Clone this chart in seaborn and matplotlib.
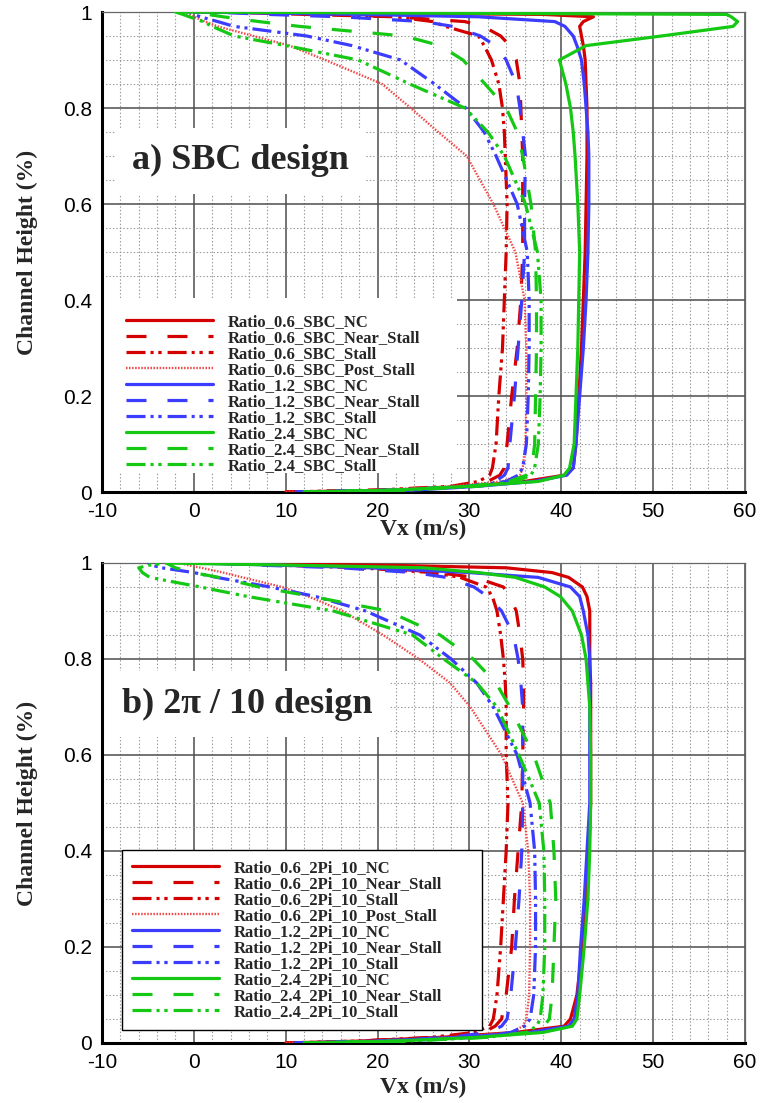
import matplotlib
matplotlib.use("Agg")
import matplotlib.pyplot as plt
import seaborn as sns
from matplotlib.patches import Rectangle
from matplotlib.ticker import MultipleLocator, FuncFormatter

# channel height stations shared by every profile (fraction of span)
height = [0.0, 0.004, 0.012, 0.022, 0.035, 0.05, 0.1, 0.2, 0.3, 0.4, 0.5, 0.6,
          0.7, 0.75, 0.8, 0.85, 0.9, 0.93, 0.95, 0.97, 0.98, 0.99, 0.995, 1.0]

# a) SBC design -- Vx (m/s) at each height station
sbc_06_nc = [10, 22, 30, 36, 40.3, 41.3, 41.6, 41.9, 42.2, 42.4, 42.6, 42.7,
             42.8, 42.8, 42.8, 42.7, 42.6, 42.4, 42.2, 42.0, 42.4, 43.5, 38, 0]
sbc_06_ns = [10, 20, 30, 32, 33.3, 33.8, 34.1, 34.6, 35.2, 35.6, 35.8, 35.8,
             35.8, 35.7, 35.6, 35.5, 35.1, 34.4, 33.4, 31.5, 29.5, 22, 15, 8]
sbc_06_st = [10, 20, 28, 31, 32.2, 32.5, 32.9, 33.2, 33.6, 33.8, 34.0, 34.1,
             33.9, 33.8, 33.6, 33.2, 32.4, 31.6, 31.0, 27.4, 26.0, 22, 12, 3]
sbc_06_ps = [10, 20, 28, 33.5, 35.5, 35.8, 36.1, 36.2, 36.2, 36.0, 35.0, 32.6,
             29.7, 26.6, 23.6, 20.5, 14.3, 10.4, 6.5, 2.6, 1.2, 0, -0.5, -1]
sbc_12_nc = [12, 24, 31, 37, 40.6, 41.3, 41.6, 42.0, 42.4, 42.7, 42.9, 43.0,
             43.0, 42.9, 42.7, 42.5, 42.2, 41.7, 41.3, 40.4, 39.3, 31, 18, 0]
sbc_12_ns = [11, 22, 30, 32.8, 33.8, 34.2, 34.4, 34.9, 35.3, 35.7, 36.0, 36.0,
             36.1, 35.8, 35.5, 35.1, 34.0, 32.8, 31.2, 28.2, 25, 16, 8, 2]
sbc_12_st = [11, 22, 30, 34, 35.3, 35.8, 36.2, 36.4, 36.5, 36.5, 36.3, 35.2,
             32.9, 31.6, 29.6, 26.2, 22.5, 17.2, 12.3, 4.4, 2.6, 0.7, 0, -0.5]
sbc_24_nc = [12, 22, 30, 37.5, 40.3, 40.9, 41.4, 41.6, 41.8, 41.9, 42.0, 41.8,
             41.5, 41.3, 41.0, 40.5, 39.8, 42.7, 50.9, 58.7, 59.2, 58.5, 58.0, -2]
sbc_24_ns = [12, 22, 30, 34.3, 36.2, 36.8, 37.1, 37.2, 37.3, 37.3, 37.2, 36.7,
             35.8, 35.2, 34.0, 31.7, 29.3, 26.8, 22.9, 11.5, 7.1, 3.2, 1.5, 0]
sbc_24_st = [12, 23, 31, 35.1, 36.7, 37.1, 37.5, 37.7, 37.8, 37.8, 37.4, 36.1,
             33.8, 32.0, 29.5, 23.5, 17.9, 10.0, 4.4, 2.0, 1.0, -0.5, -1.2, -2]

# b) 2pi/10 design
pi_06_nc = [10, 18, 27, 35, 40.3, 41.0, 41.7, 42.3, 42.7, 43.0, 43.2, 43.2,
            43.2, 43.2, 43.1, 43.1, 43.1, 42.8, 42.3, 40.8, 39.0, 34, 22, 0]
pi_06_ns = [10, 18, 27, 31.5, 32.8, 33.5, 34.0, 34.6, 34.9, 35.3, 35.7, 35.8,
            35.9, 35.9, 35.8, 35.5, 35.1, 34.4, 33.7, 30.6, 26.5, 21, 15, 8]
pi_06_st = [10, 18, 26, 30.5, 32.2, 32.6, 33.0, 33.4, 33.7, 34.0, 34.2, 34.0,
            34.0, 33.9, 33.7, 33.4, 33.0, 32.5, 31.8, 29, 26, 18, 10, 3]
pi_06_ps = [10, 20, 28, 34.5, 35.8, 36.2, 36.5, 36.6, 36.6, 36.4, 35.8, 33.5,
            30.1, 27.9, 24.5, 20.6, 16.2, 12.5, 9.6, 5.3, 3.2, 0.8, -0.5, -1.5]
pi_12_nc = [11, 20, 29, 36.5, 40.8, 41.4, 41.8, 42.1, 42.5, 42.8, 43.1, 43.1,
            43.1, 43.1, 43.1, 42.9, 42.4, 42.0, 41.0, 37.5, 30, 19, 10, 0]
pi_12_ns = [11, 20, 28, 32, 33.5, 34.1, 34.5, 35.0, 35.4, 35.7, 35.8, 35.8,
            35.8, 35.6, 35.3, 34.8, 33.5, 32.0, 30.5, 27.5, 24, 16, 8, 2]
pi_12_st = [11, 22, 31, 34.5, 36.0, 36.6, 37.0, 37.2, 37.2, 37.1, 36.6, 35.2,
            32.6, 30.8, 28.0, 24.6, 18.7, 13.3, 8.3, 2.5, 0.0, -3.5, -4.5, -5]
pi_24_nc = [12, 22, 31, 38, 41.2, 41.7, 42.0, 42.5, 42.9, 43.1, 43.2, 43.2,
            43.1, 42.9, 42.7, 42.2, 41.2, 39.9, 38.2, 35.0, 31, 25, 12, -3]
pi_24_ns = [12, 23, 32, 36.5, 38.1, 38.7, 39.0, 39.2, 39.4, 39.2, 38.8, 37.0,
            34.4, 32.9, 30.4, 26.8, 21.1, 12.9, 7.1, 2.7, -0.1, -2, -2.5, -3]
pi_24_st = [12, 23, 32, 36.2, 37.3, 37.7, 38.0, 38.2, 38.2, 38.1, 37.6, 35.4,
            33.0, 30.8, 27.2, 23.8, 15.2, 5.9, 0.7, -4.8, -5.6, -6.0, -5.0, -3]

ratios = ["0.6", "0.6", "0.6", "0.6", "1.2", "1.2", "1.2", "2.4", "2.4", "2.4"]
conditions = ["NC", "Near_Stall", "Stall", "Post_Stall", "NC", "Near_Stall",
              "Stall", "NC", "Near_Stall", "Stall"]
sbc_series = [sbc_06_nc, sbc_06_ns, sbc_06_st, sbc_06_ps, sbc_12_nc, sbc_12_ns,
              sbc_12_st, sbc_24_nc, sbc_24_ns, sbc_24_st]
pi_series = [pi_06_nc, pi_06_ns, pi_06_st, pi_06_ps, pi_12_nc, pi_12_ns,
             pi_12_st, pi_24_nc, pi_24_ns, pi_24_st]

COLORS = {"0.6": "#d40000", "1.2": "#3c3cff", "2.4": "#14c814"}
DASHES = {
    "NC": "-",
    "Near_Stall": (0, (14.4, 15.1)),
    "Stall": (0, (13.7, 3.6, 2.2, 3.4, 2.4, 4.3)),
    "Post_Stall": (0, (1.1, 1.1)),
}

sns.set_theme(style="white")
plt.rcParams['font.family'] = ['Liberation Sans', 'DejaVu Sans']
plt.rcParams['lines.scale_dashes'] = False
SERIF = dict(family=['Liberation Serif', 'DejaVu Serif'], weight='bold')

fig = plt.figure(figsize=(7.61, 11.03), dpi=100)
ax_a = fig.add_axes([102 / 761, 1 - 492 / 1103, 643 / 761, 480 / 1103])
ax_b = fig.add_axes([102 / 761, 1 - 1043 / 1103, 643 / 761, 480 / 1103])


def draw_profiles(ax, series, tag):
    for vx, ratio, cond in zip(series, ratios, conditions):
        color = "#f04848" if cond == "Post_Stall" else COLORS[ratio]
        lw = 1.7 if cond == "Post_Stall" else 2.3
        sns.lineplot(x=vx, y=height, ax=ax, sort=False, estimator=None,
                     color=color, linewidth=lw, linestyle=DASHES[cond],
                     label=f"Ratio_{ratio}_{tag}_{cond}", zorder=3)


def style_axes(ax, label_y):
    ax.set_xlim(-10, 60)
    ax.set_ylim(0, 1)
    ax.xaxis.set_major_locator(MultipleLocator(10))
    ax.xaxis.set_minor_locator(MultipleLocator(2))
    ax.yaxis.set_major_locator(MultipleLocator(0.2))
    ax.yaxis.set_minor_locator(MultipleLocator(0.05))
    fmt = FuncFormatter(lambda v, p: f"{v:g}")
    ax.xaxis.set_major_formatter(fmt)
    ax.yaxis.set_major_formatter(fmt)
    ax.set_axisbelow(True)
    ax.grid(which='major', color='#4d4d4d', linewidth=1.1)
    ax.grid(which='minor', color='#999999', linewidth=0.8, linestyle=(0, (1, 1.5)))
    for s in ['left', 'bottom']:
        ax.spines[s].set_color('black')
        ax.spines[s].set_linewidth(2.2)
    for s in ['top', 'right']:
        ax.spines[s].set_color('#666666')
        ax.spines[s].set_linewidth(0.9)
    ax.tick_params(which='major', direction='in', length=11, width=2.2,
                   color='black', labelsize=15, pad=7, labelcolor='black')
    ax.tick_params(which='minor', direction='in', length=5, width=0.8, color='#333333')
    ax.set_xlabel('Vx (m/s)', fontsize=17, **SERIF)
    ax.set_ylabel('Channel Height (%)', fontsize=17, **SERIF)
    ax.xaxis.set_label_coords(0.5, label_y)
    ax.yaxis.set_label_coords(-0.0995, 0.5)


draw_profiles(ax_a, sbc_series, "SBC")
draw_profiles(ax_b, pi_series, "2Pi_10")
style_axes(ax_a, -0.055)
style_axes(ax_b, -0.07)

# white area behind the panel a) legend (no frame there)
ax_a.add_patch(Rectangle((0, 0.04), 0.552, 0.365, transform=ax_a.transAxes,
                         facecolor='white', edgecolor='none', zorder=1))

leg_kw = dict(loc='upper left', borderaxespad=0, fancybox=False, framealpha=1,
              facecolor='white', prop=dict(size=12, **SERIF), handlelength=5.2,
              handletextpad=0.9, labelspacing=0.0, borderpad=0.6)
h, l = ax_a.get_legend_handles_labels()
leg_a = ax_a.legend(h, l, bbox_to_anchor=(0.022, 0.392), frameon=False, **leg_kw)
h, l = ax_b.get_legend_handles_labels()
leg_b = ax_b.legend(h, l, bbox_to_anchor=(0.031, 0.0, 0.56, 0.402), mode='expand',
                    frameon=True, edgecolor='black', **leg_kw)
leg_b.get_frame().set_linewidth(1.0)

ax_a.text(0.216, 0.69, "a) SBC design", transform=ax_a.transAxes, ha='center',
          va='center', fontsize=26, zorder=4,
          bbox=dict(boxstyle='square,pad=0.45', facecolor='white', edgecolor='none'),
          **SERIF)
ax_b.text(0.226, 0.706, "b) 2\u03c0 / 10 design", transform=ax_b.transAxes,
          ha='center', va='center', fontsize=26, zorder=4,
          bbox=dict(boxstyle='square,pad=0.45', facecolor='white', edgecolor='none'),
          **SERIF)

fig.savefig("out.png", dpi=100, facecolor='white')
